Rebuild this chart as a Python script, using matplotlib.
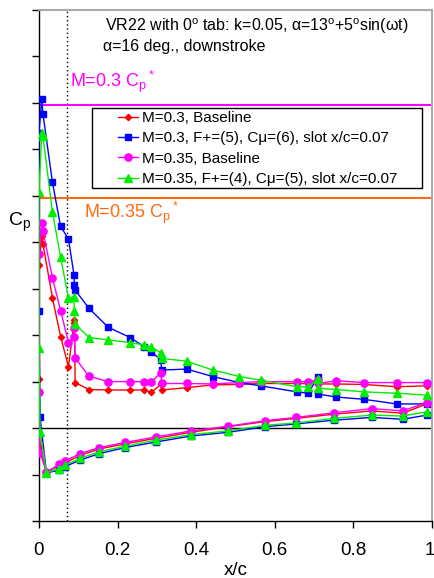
import matplotlib
matplotlib.use('Agg')
import matplotlib.pyplot as plt
import matplotlib.transforms as mtransforms
from matplotlib.patches import Rectangle

plt.rcParams['font.family'] = ['Liberation Sans', 'DejaVu Sans']
plt.rcParams['mathtext.fontset'] = 'custom'
plt.rcParams['mathtext.rm'] = 'Liberation Sans'
plt.rcParams['mathtext.it'] = 'Liberation Sans:italic'

# ------------------ tap positions ------------------
x_upper = [0.0, 0.0, 0.007, 0.010, 0.034, 0.055, 0.075, 0.089, 0.090, 0.092,
           0.127, 0.176, 0.232, 0.268, 0.286, 0.310, 0.312, 0.376, 0.442, 0.510,
           0.564, 0.656, 0.685, 0.709, 0.711, 0.756, 0.826, 0.910, 0.987]
x_lower = [0.0025, 0.019, 0.051, 0.066, 0.104, 0.153, 0.219, 0.297, 0.387, 0.482,
           0.575, 0.654, 0.751, 0.847, 0.925, 0.987]

# ------------------ Cp values ------------------
cp_m30_base_up = [-1.05, -3.51, -4.14, -3.97, -2.81, -1.97, -1.32, -2.26, -2.33, -0.98,
                  -0.83, -0.82, -0.82, -0.82, -0.77, -0.94, -0.82, -0.87, -0.93, -0.94,
                  -0.96, -0.96, -0.96, -1.05, -0.95, -0.95, -0.94, -0.89, -0.91]
cp_m30_base_lo = [0.40, 0.95, 0.81, 0.75, 0.59, 0.45, 0.34, 0.22, 0.09, -0.03,
                  -0.14, -0.21, -0.30, -0.37, -0.32, -0.52]

cp_m30_ctrl_up = [-2.52, -6.36, -7.09, -6.77, -5.30, -4.34, -4.07, -3.30, -3.08, -2.97,
                  -2.58, -2.17, -1.95, -1.75, -1.64, -1.47, -1.25, -1.27, -1.11, -0.98,
                  -0.91, -0.78, -0.75, -1.09, -0.73, -0.67, -0.62, -0.52, -0.52]
cp_m30_ctrl_lo = [-0.24, 0.96, 0.91, 0.83, 0.69, 0.55, 0.42, 0.30, 0.17, 0.09,
                  -0.03, -0.09, -0.17, -0.23, -0.19, -0.28]

cp_m35_base_up = [-0.78, -3.74, -4.41, -4.25, -3.24, -2.53, -1.84, -1.97, -2.16, -1.51,
                  -1.12, -1.00, -1.00, -1.00, -1.00, -1.19, -0.96, -0.96, -0.95, -0.98,
                  -1.00, -1.00, -1.00, -1.03, -0.96, -1.02, -0.98, -0.98, -0.98]
cp_m35_base_lo = [0.53, 0.95, 0.78, 0.71, 0.55, 0.42, 0.31, 0.19, 0.06, -0.04,
                  -0.16, -0.23, -0.33, -0.42, -0.37, -0.55]

cp_m35_ctrl_up = [-1.73, -5.09, -6.36, -6.29, -4.66, -3.68, -2.80, -2.82, -2.51, -2.24,
                  -1.95, -1.90, -1.84, -1.79, -1.75, -1.62, -1.50, -1.44, -1.25, -1.11,
                  -1.03, -0.89, -0.89, -1.05, -0.86, -0.83, -0.78, -0.75, -0.71]
cp_m35_ctrl_lo = [0.09, 0.96, 0.87, 0.80, 0.65, 0.51, 0.39, 0.26, 0.14, 0.06,
                  -0.06, -0.11, -0.21, -0.28, -0.26, -0.35]

labels = ['M=0.3, Baseline',
          'M=0.3, F+=(5), Cμ=(6), slot x/c=0.07',
          'M=0.35, Baseline',
          'M=0.35, F+=(4), Cμ=(5), slot x/c=0.07']

cp_star_m30 = -6.95
cp_star_m35 = -4.96
slot_xc = 0.07


def surface(up, lo):
    # upper surface from TE to LE, then lower surface from LE to TE
    return x_upper[::-1] + x_lower, up[::-1] + lo


fig = plt.figure(figsize=(4.35, 5.78), dpi=100)
ax = fig.add_axes([39 / 435, 1 - 521 / 578, 393 / 435, 511 / 578])

ax.axhline(0, color='black', lw=1, zorder=1)
ax.axvline(slot_xc, color='black', lw=1, ls=(0, (1, 2)), zorder=1)
ax.axhline(cp_star_m30, color='#ff00ff', lw=1.5, zorder=1)
ax.axhline(cp_star_m35, color='#ff6a10', lw=1.5, zorder=1)

styles = [('#ff0000', 'D', 3.2), ('#0000ff', 's', 4.8), ('#ff00ff', 'o', 5.2), ('#00ee00', '^', 5.2)]
data = [(cp_m30_base_up, cp_m30_base_lo), (cp_m30_ctrl_up, cp_m30_ctrl_lo),
        (cp_m35_base_up, cp_m35_base_lo), (cp_m35_ctrl_up, cp_m35_ctrl_lo)]
for (up, lo), (c, m, ms), lab in zip(data, styles, labels):
    xs, ys = surface(up, lo)
    ax.plot(xs, ys, color=c, marker=m, ms=ms, lw=1, mec=c, label=lab, zorder=3)

ax.set_xlim(0, 1)
ax.set_ylim(2, -9)
ax.set_xticks([0, 0.2, 0.4, 0.6, 0.8, 1])
ax.set_xticklabels(['0', '0.2', '0.4', '0.6', '0.8', '1'])
ax.set_yticks(range(-9, 3))
ax.set_yticklabels([])
ax.tick_params(direction='out', length=5, width=1, labelsize=13.5, pad=10)
# nudge the last x label a little left so it stays inside the figure
last = ax.get_xticklabels()[-1]
last.set_transform(last.get_transform() + mtransforms.ScaledTranslation(-2 / 100, 0, fig.dpi_scale_trans))

for s in ['top', 'right']:
    ax.spines[s].set_color('#aaaaaa')
    ax.spines[s].set_linewidth(1.5)
for s in ['left', 'bottom']:
    ax.spines[s].set_color('black')
    ax.spines[s].set_linewidth(1)

ax.set_xlabel('x/c', fontsize=13.5, labelpad=2)
fig.text(8 / 435, 1 - 222 / 578, 'C$_\\mathrm{p}$', fontsize=14, va='center', ha='left')

ax.text(105 / 435, 1 - 26 / 578,
        'VR22 with 0$^\\mathrm{o}$ tab: k=0.05, α=13$^\\mathrm{o}$+5$^\\mathrm{o}$sin(ωt)',
        transform=fig.transFigure, fontsize=11.5, va='center')
ax.text(103 / 435, 1 - 46 / 578, 'α=16 deg., downstroke',
        transform=fig.transFigure, fontsize=11.5, va='center')

ax.text(70 / 435, 1 - 82 / 578, 'M=0.3 C$_\\mathrm{p}$$^*$', color='#ff00ff',
        transform=fig.transFigure, fontsize=13, va='center')
ax.text(84 / 435, 1 - 213 / 578, 'M=0.35 C$_\\mathrm{p}$$^*$', color='#ff6a10',
        transform=fig.transFigure, fontsize=13, va='center')

# legend box is wider than its contents in the original, so draw the frame separately
ax.add_patch(Rectangle((92 / 435, 1 - 188 / 578), 330 / 435, 80 / 578, transform=fig.transFigure,
                       facecolor='white', edgecolor='black', lw=1, zorder=4))
leg = ax.legend(loc='upper left', bbox_to_anchor=(118 / 435, 1 - 111 / 578),
                bbox_transform=fig.transFigure, fontsize=11, frameon=False,
                handlelength=1.3, handletextpad=0.3, labelspacing=0.42,
                borderpad=0.0, borderaxespad=0)
leg.set_zorder(5)

fig.savefig('out.png', dpi=100)
